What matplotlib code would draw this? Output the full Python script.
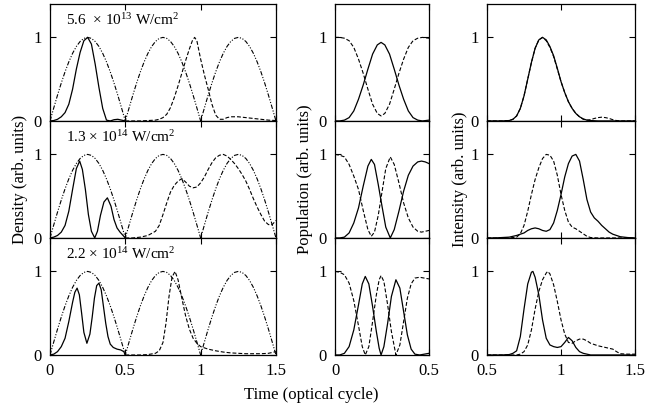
import matplotlib
matplotlib.use('Agg')
import matplotlib.pyplot as plt

plt.rcParams['font.family'] = ['Liberation Serif', 'DejaVu Serif']
plt.rcParams['mathtext.fontset'] = 'custom'
plt.rcParams['mathtext.rm'] = 'Liberation Serif'
plt.rcParams['mathtext.it'] = 'Liberation Serif:italic'

# ---- left column: density (dash-dot = field envelope, shared)
field_t = [0.0, 0.025, 0.05, 0.075, 0.1, 0.125, 0.15, 0.175, 0.2, 0.225,
           0.25, 0.275, 0.3, 0.325, 0.35, 0.375, 0.4, 0.425, 0.45, 0.475,
           0.5, 0.525, 0.55, 0.575, 0.6, 0.625, 0.65, 0.675, 0.7, 0.725,
           0.75, 0.775, 0.8, 0.825, 0.85, 0.875, 0.9, 0.925, 0.95, 0.975,
           1.0, 1.025, 1.05, 1.075, 1.1, 1.125, 1.15, 1.175, 1.2, 1.225,
           1.25, 1.275, 1.3, 1.325, 1.35, 1.375, 1.4, 1.425, 1.45, 1.475, 1.5]
field = [0.0, 0.156, 0.309, 0.454, 0.588, 0.707, 0.809, 0.891, 0.951, 0.988,
         1.0, 0.988, 0.951, 0.891, 0.809, 0.707, 0.588, 0.454, 0.309, 0.156,
         0.0, 0.156, 0.309, 0.454, 0.588, 0.707, 0.809, 0.891, 0.951, 0.988,
         1.0, 0.988, 0.951, 0.891, 0.809, 0.707, 0.588, 0.454, 0.309, 0.156,
         0.0, 0.156, 0.309, 0.454, 0.588, 0.707, 0.809, 0.891, 0.951, 0.988,
         1.0, 0.988, 0.951, 0.891, 0.809, 0.707, 0.588, 0.454, 0.309, 0.156, 0.0]

dens1_solid_t = [0, 0.025, 0.05, 0.075, 0.1, 0.125, 0.15, 0.175, 0.2, 0.225, 0.25,
                 0.275, 0.3, 0.325, 0.35, 0.375, 0.4, 0.425, 0.45, 0.475, 0.5]
dens1_solid = [0, 0.005, 0.02, 0.05, 0.10, 0.20, 0.38, 0.62, 0.82, 0.96, 1.0,
               0.92, 0.68, 0.40, 0.15, 0.01, 0.0, 0.015, 0.02, 0.01, 0.0]
dens1_dash_t = [0.5, 0.55, 0.6, 0.65, 0.7, 0.725, 0.75, 0.775, 0.8, 0.825, 0.85,
                0.875, 0.9, 0.925, 0.945, 0.96, 0.975, 1.0, 1.025, 1.05, 1.075,
                1.1, 1.125, 1.15, 1.175, 1.2, 1.25, 1.3, 1.35, 1.4, 1.45, 1.5]
dens1_dash = [0, 0, 0, 0.005, 0.01, 0.02, 0.04, 0.08, 0.16, 0.28, 0.42,
              0.57, 0.72, 0.86, 0.96, 1.0, 0.96, 0.74, 0.55, 0.38, 0.20,
              0.07, 0.02, 0.02, 0.04, 0.05, 0.05, 0.04, 0.03, 0.02, 0.01, 0.005]

dens2_solid_t = [0, 0.025, 0.05, 0.075, 0.1, 0.125, 0.15, 0.175, 0.197, 0.215, 0.235,
                 0.255, 0.275, 0.297, 0.315, 0.335, 0.358, 0.381, 0.405, 0.425,
                 0.445, 0.465, 0.485, 0.5]
dens2_solid = [0, 0.01, 0.03, 0.07, 0.15, 0.32, 0.58, 0.83, 0.92, 0.82, 0.58,
               0.28, 0.08, 0.0, 0.08, 0.27, 0.43, 0.48, 0.38, 0.22,
               0.12, 0.07, 0.03, 0.0]
dens2_dash_t = [0.5, 0.55, 0.6, 0.65, 0.7, 0.725, 0.75, 0.775, 0.8, 0.825, 0.85,
                0.875, 0.9, 0.925, 0.95, 0.975, 1.0, 1.025, 1.05, 1.075, 1.1,
                1.125, 1.15, 1.175, 1.2, 1.225, 1.25, 1.275, 1.3, 1.325, 1.35,
                1.375, 1.4, 1.425, 1.45, 1.475, 1.5]
dens2_dash = [0, 0, 0.01, 0.03, 0.08, 0.15, 0.28, 0.42, 0.55, 0.63, 0.68,
              0.71, 0.67, 0.62, 0.60, 0.61, 0.66, 0.73, 0.82, 0.90, 0.96,
              0.99, 1.0, 0.98, 0.94, 0.89, 0.83, 0.76, 0.68, 0.58, 0.47,
              0.37, 0.28, 0.20, 0.16, 0.16, 0.21]

dens3_solid_t = [0, 0.025, 0.05, 0.075, 0.1, 0.125, 0.15, 0.165, 0.18, 0.195, 0.21,
                 0.225, 0.245, 0.265, 0.28, 0.295, 0.31, 0.325, 0.34, 0.355, 0.37,
                 0.385, 0.4, 0.42, 0.445, 0.47, 0.49, 0.5]
dens3_solid = [0, 0.01, 0.04, 0.10, 0.20, 0.40, 0.63, 0.75, 0.80, 0.72, 0.50,
               0.27, 0.14, 0.25, 0.45, 0.68, 0.83, 0.86, 0.78, 0.58, 0.38,
               0.22, 0.13, 0.09, 0.07, 0.06, 0.04, 0.0]
dens3_dash_t = [0.5, 0.6, 0.65, 0.7, 0.725, 0.75, 0.77, 0.79, 0.81, 0.83, 0.85,
                0.875, 0.9, 0.925, 0.95, 0.975, 1.0, 1.05, 1.1, 1.15, 1.2, 1.3,
                1.4, 1.45, 1.5]
dens3_dash = [0, 0, 0.005, 0.02, 0.05, 0.15, 0.38, 0.70, 0.93, 1.0, 0.9,
              0.68, 0.47, 0.31, 0.2, 0.14, 0.10, 0.07, 0.05, 0.035, 0.025, 0.015,
              0.015, 0.02, 0.04]

# ---- middle column: population
pop1_t = [0, 0.025, 0.05, 0.075, 0.1, 0.125, 0.15, 0.175, 0.2, 0.225, 0.245,
          0.265, 0.29, 0.315, 0.34, 0.365, 0.39, 0.415, 0.44, 0.465, 0.5]
pop1_solid = [0, 0.0, 0.01, 0.04, 0.12, 0.26, 0.43, 0.62, 0.80, 0.91, 0.94,
              0.91, 0.80, 0.62, 0.43, 0.26, 0.12, 0.04, 0.01, 0.0, 0.01]
pop1_dash = [1.0, 1.0, 0.99, 0.96, 0.88, 0.74, 0.57, 0.38, 0.20, 0.09, 0.06,
             0.09, 0.20, 0.38, 0.57, 0.74, 0.88, 0.96, 0.99, 1.0, 0.99]

pop2_t = [0, 0.025, 0.05, 0.075, 0.1, 0.125, 0.15, 0.175, 0.193, 0.21, 0.23,
          0.25, 0.27, 0.294, 0.315, 0.34, 0.365, 0.39, 0.415, 0.44, 0.46, 0.48, 0.5]
pop2_solid = [0, 0.0, 0.01, 0.06, 0.18, 0.36, 0.62, 0.86, 0.94, 0.88, 0.64,
              0.38, 0.13, 0.0, 0.10, 0.32, 0.56, 0.75, 0.86, 0.91, 0.92, 0.91, 0.89]
pop2_dash = [1.0, 0.99, 0.97, 0.88, 0.74, 0.58, 0.33, 0.10, 0.02, 0.07, 0.27,
             0.55, 0.83, 0.97, 0.88, 0.66, 0.42, 0.24, 0.13, 0.08, 0.07, 0.08, 0.09]

pop3_t = [0, 0.025, 0.05, 0.075, 0.1, 0.125, 0.145, 0.161, 0.18, 0.2, 0.22,
          0.235, 0.245, 0.26, 0.28, 0.3, 0.324, 0.345, 0.365, 0.385, 0.405,
          0.425, 0.45, 0.475, 0.5]
pop3_solid = [0, 0.0, 0.02, 0.10, 0.30, 0.60, 0.85, 0.94, 0.85, 0.58, 0.28,
              0.08, 0.0, 0.10, 0.38, 0.70, 0.90, 0.80, 0.52, 0.24, 0.07,
              0.01, 0.0, 0.01, 0.02]
pop3_dash = [1.0, 0.99, 0.96, 0.86, 0.65, 0.35, 0.10, 0.0, 0.10, 0.40, 0.72,
             0.90, 0.95, 0.88, 0.60, 0.28, 0.0, 0.12, 0.40, 0.68, 0.85,
             0.92, 0.93, 0.92, 0.91]

# ---- right column: intensity
int1_solid_t = [0.5, 0.6, 0.65, 0.675, 0.7, 0.725, 0.75, 0.775, 0.8, 0.825, 0.85,
                0.875, 0.9, 0.925, 0.95, 0.975, 1.0, 1.025, 1.05, 1.075, 1.1,
                1.125, 1.15, 1.175, 1.2, 1.25, 1.5]
int1_solid = [0, 0, 0.005, 0.02, 0.06, 0.15, 0.30, 0.50, 0.70, 0.87, 0.97,
              1.0, 0.97, 0.89, 0.78, 0.63, 0.47, 0.34, 0.23, 0.15, 0.09,
              0.05, 0.025, 0.01, 0.005, 0, 0]
int1_dash_t = [0.5, 0.6, 0.65, 0.675, 0.7, 0.725, 0.75, 0.775, 0.8, 0.825, 0.85,
               0.875, 0.9, 0.925, 0.95, 0.975, 1.0, 1.025, 1.05, 1.075, 1.1,
               1.125, 1.15, 1.175, 1.2, 1.225, 1.25, 1.275, 1.3, 1.325, 1.35,
               1.375, 1.4, 1.5]
int1_dash = [0, 0, 0.005, 0.02, 0.06, 0.15, 0.30, 0.50, 0.70, 0.87, 0.97,
             1.0, 0.96, 0.88, 0.77, 0.62, 0.47, 0.34, 0.23, 0.15, 0.09,
             0.05, 0.02, 0.01, 0.015, 0.03, 0.04, 0.045, 0.04, 0.03, 0.015,
             0.005, 0.0, 0]

int2_solid_t = [0.5, 0.55, 0.6, 0.65, 0.7, 0.75, 0.775, 0.8, 0.825, 0.85, 0.875,
                0.9, 0.925, 0.95, 0.975, 1.0, 1.025, 1.05, 1.075, 1.1, 1.125,
                1.15, 1.175, 1.2, 1.225, 1.25, 1.275, 1.3, 1.325, 1.35, 1.375,
                1.4, 1.45, 1.5]
int2_solid = [0, 0.0, 0.005, 0.01, 0.03, 0.06, 0.09, 0.11, 0.12, 0.11, 0.09,
              0.08, 0.10, 0.18, 0.33, 0.52, 0.73, 0.89, 0.98, 1.0, 0.92,
              0.70, 0.46, 0.31, 0.24, 0.20, 0.15, 0.11, 0.07, 0.045, 0.03,
              0.015, 0.005, 0.0]
int2_dash_t = [0.5, 0.65, 0.7, 0.725, 0.75, 0.775, 0.8, 0.825, 0.85, 0.875, 0.9,
               0.925, 0.95, 0.975, 1.0, 1.025, 1.05, 1.075, 1.1, 1.125, 1.15,
               1.175, 1.2, 1.25, 1.5]
int2_dash = [0, 0.0, 0.01, 0.05, 0.15, 0.32, 0.52, 0.70, 0.84, 0.95, 1.0,
             0.99, 0.92, 0.75, 0.52, 0.33, 0.19, 0.13, 0.11, 0.08, 0.05,
             0.02, 0.005, 0.0, 0]

int3_solid_t = [0.5, 0.6, 0.65, 0.675, 0.7, 0.725, 0.75, 0.775, 0.8, 0.81, 0.825,
                0.85, 0.875, 0.9, 0.925, 0.95, 0.975, 1.0, 1.025, 1.05, 1.075,
                1.1, 1.125, 1.15, 1.2, 1.5]
int3_solid = [0, 0.0, 0.005, 0.02, 0.05, 0.22, 0.55, 0.85, 0.99, 1.0, 0.93,
              0.72, 0.42, 0.20, 0.12, 0.10, 0.09, 0.10, 0.15, 0.21, 0.17,
              0.09, 0.04, 0.02, 0.0, 0]
int3_dash_t = [0.5, 0.7, 0.725, 0.75, 0.775, 0.8, 0.825, 0.85, 0.875, 0.9, 0.91,
               0.925, 0.95, 0.975, 1.0, 1.025, 1.05, 1.075, 1.1, 1.125, 1.15,
               1.175, 1.2, 1.25, 1.3, 1.35, 1.375, 1.4, 1.45, 1.5]
int3_dash = [0, 0.0, 0.01, 0.04, 0.12, 0.30, 0.55, 0.76, 0.90, 0.98, 1.0,
             0.97, 0.84, 0.64, 0.42, 0.25, 0.15, 0.14, 0.17, 0.19, 0.19,
             0.17, 0.14, 0.11, 0.09, 0.07, 0.04, 0.015, 0.01, 0.01]

labels = ['5.6  × 10$^{13}$ W/cm$^{2}$',
          '1.3 × 10$^{14}$ W/cm$^{2}$',
          '2.2 × 10$^{14}$ W/cm$^{2}$']

dens = [(dens1_solid_t, dens1_solid, dens1_dash_t, dens1_dash),
        (dens2_solid_t, dens2_solid, dens2_dash_t, dens2_dash),
        (dens3_solid_t, dens3_solid, dens3_dash_t, dens3_dash)]
pops = [(pop1_t, pop1_solid, pop1_dash),
        (pop2_t, pop2_solid, pop2_dash),
        (pop3_t, pop3_solid, pop3_dash)]
ints = [(int1_solid_t, int1_solid, int1_dash_t, int1_dash),
        (int2_solid_t, int2_solid, int2_dash_t, int2_dash),
        (int3_solid_t, int3_solid, int3_dash_t, int3_dash)]

fig = plt.figure(figsize=(6.7, 4.11), dpi=100)

col_x = [0.0746, 0.5, 0.7269]
col_w = [0.3373, 0.1403, 0.2209]
row_h = 0.2847
row_y = [0.7057, 0.4210, 0.1363]

lw = 0.9
dash_style = (0, (3.5, 1.8))
dashdot_style = (0, (4, 1.5, 1, 1.5, 1, 1.5))


def style(ax, xlim, xticks, xlabels, bottom):
    ax.set_xlim(*xlim)
    ax.set_ylim(0, 1.4)
    ax.set_yticks([0, 1])
    ax.set_yticklabels(['0', '1'])
    ax.set_xticks(xticks)
    if bottom:
        ax.set_xticklabels(xlabels)
    else:
        ax.set_xticklabels([])
    ax.tick_params(direction='in', top=True, right=True, length=4, width=0.8,
                   labelsize=12, pad=6)
    for s in ax.spines.values():
        s.set_linewidth(0.9)


for r in range(3):
    bottom = (r == 2)

    ax = fig.add_axes([col_x[0], row_y[r], col_w[0], row_h])
    st, sv, dt, dv = dens[r]
    ax.plot(field_t, field, color='black', lw=0.8, linestyle=dashdot_style)
    ax.plot(dt, dv, color='black', lw=0.8, linestyle=dash_style)
    ax.plot(st, sv, color='black', lw=lw)
    ax.text(0.108, 1.15, labels[r], fontsize=11, va='baseline')
    style(ax, (0, 1.5), [0, 0.5, 1, 1.5], ['0', '0.5', '1', '1.5'], bottom)

    ax = fig.add_axes([col_x[1], row_y[r], col_w[1], row_h])
    pt, ps, pd = pops[r]
    ax.plot(pt, pd, color='black', lw=0.8, linestyle=dash_style)
    ax.plot(pt, ps, color='black', lw=lw)
    style(ax, (0, 0.5), [0, 0.5], ['0', '0.5'], bottom)

    ax = fig.add_axes([col_x[2], row_y[r], col_w[2], row_h])
    st, sv, dt, dv = ints[r]
    ax.plot(dt, dv, color='black', lw=0.8, linestyle=dash_style)
    ax.plot(st, sv, color='black', lw=lw)
    style(ax, (0.5, 1.5), [0.5, 1, 1.5], ['0.5', '1', '1.5'], bottom)

fig.text(20 / 670, 0.563, 'Density (arb. units)', rotation=90, ha='center', va='center', fontsize=12)
fig.text(305 / 670, 0.563, 'Population (arb. units)', rotation=90, ha='center', va='center', fontsize=12)
fig.text(460 / 670, 0.563, 'Intensity (arb. units)', rotation=90, ha='center', va='center', fontsize=12)
fig.text(311 / 670, 0.039, 'Time (optical cycle)', ha='center', va='center', fontsize=12)

fig.savefig('out.png', dpi=100)
